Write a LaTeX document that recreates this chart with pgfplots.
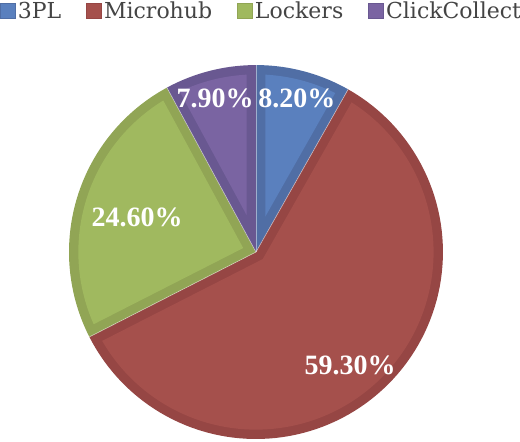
\documentclass[border=0pt]{standalone}
\usepackage{pgfplots}
\pgfplotsset{compat=1.18}
\usepackage{fontspec}
\setmainfont{DejaVu Serif}
\newfontfamily\labfont{Liberation Serif}

\definecolor{bluel}{HTML}{5A80BE}
\definecolor{blued}{HTML}{506EA5}
\definecolor{redl}{HTML}{A5504C}
\definecolor{redd}{HTML}{964644}
\definecolor{greenl}{HTML}{A0B95F}
\definecolor{greend}{HTML}{91A555}
\definecolor{purplel}{HTML}{7A64A2}
\definecolor{purpled}{HTML}{695891}
\definecolor{legtext}{HTML}{444444}

% shares in percent
\def\vA{8.2}  % 3PL
\def\vB{59.3} % Microhub
\def\vC{24.6} % Lockers
\def\vD{7.9}  % ClickCollect

% one slice: lo angle, hi angle, border colour, fill colour
\newcommand\slice[4]{%
  \addplot[fill=#3, draw=none, domain=0:1, samples=100, forget plot]
    ({cos(#1+x*(#2-#1))},{sin(#1+x*(#2-#1))}) -- (axis cs:0,0) -- cycle;
  \addplot[fill=#4, draw=none, domain=0:1, samples=100, forget plot]
    ({(1-\w)*cos(#1+\dd+x*(#2-#1-2*\dd))},{(1-\w)*sin(#1+\dd+x*(#2-#1-2*\dd))})
    -- (axis cs:{\w/sin((#2-#1)/2)*cos((#1+#2)/2)},{\w/sin((#2-#1)/2)*sin((#1+#2)/2)}) -- cycle;
}
\newcommand\sep[1]{%
  \addplot[white, opacity=0.45, line width=0.7bp, domain=0:1, samples=2, forget plot]
    ({x*cos(#1)},{x*sin(#1)});
}

\begin{document}
\begin{tikzpicture}
\pgfmathsetmacro\bA{90-3.6*\vA}
\pgfmathsetmacro\bB{\bA-3.6*\vB}
\pgfmathsetmacro\bC{\bB-3.6*\vC}
\pgfmathsetmacro\bD{\bC-3.6*\vD}
\pgfmathsetmacro\w{0.05}
\pgfmathsetmacro\dd{asin(\w/(1-\w))}
\begin{axis}[scale only axis, width=520bp, height=442bp,
  xmin=-1.369, xmax=1.412, ymin=-1.016, ymax=1.348,
  hide axis, clip=false,
  legend image code/.code={\filldraw[#1, line width=0.8bp] (0bp,-7.5bp) rectangle (15bp,7.5bp);},
  legend columns=4,
  legend style={at={(0.502,1)}, anchor=north, draw=none, fill=none,
    inner sep=0pt, outer sep=0pt, text=legtext,
    font=\fontsize{22bp}{26bp}\selectfont,
    nodes={inner sep=1.5bp},
    /tikz/every odd column/.append style={column sep=1bp},
    /tikz/every even column/.append style={column sep=23bp}}]
\slice{\bA}{90}{blued}{bluel}
\slice{\bB}{\bA}{redd}{redl}
\slice{\bC}{\bB}{greend}{greenl}
\slice{\bD}{\bC}{purpled}{purplel}
\sep{90}
\sep{\bA}
\sep{\bB}
\sep{\bC}
\addlegendimage{fill=bluel, draw=blued}
\addlegendentry{3PL}
\addlegendimage{fill=redl, draw=redd}
\addlegendentry{Microhub}
\addlegendimage{fill=greenl, draw=greend}
\addlegendentry{Lockers}
\addlegendimage{fill=purplel, draw=purpled}
\addlegendentry{ClickCollect}
\tikzset{lab/.style={text=white, font=\labfont\bfseries\fontsize{28bp}{32bp}\selectfont}}
\node[lab] at (axis cs:0.219,0.824) {8.20\%};
\node[lab] at (axis cs:-0.219,0.824) {7.90\%};
\node[lab] at (axis cs:-0.636,0.187) {24.60\%};
\node[lab] at (axis cs:0.503,-0.604) {59.30\%};
\end{axis}
\pgfresetboundingbox
\path (current axis.south west) rectangle (current axis.north east);
\end{tikzpicture}
\end{document}
